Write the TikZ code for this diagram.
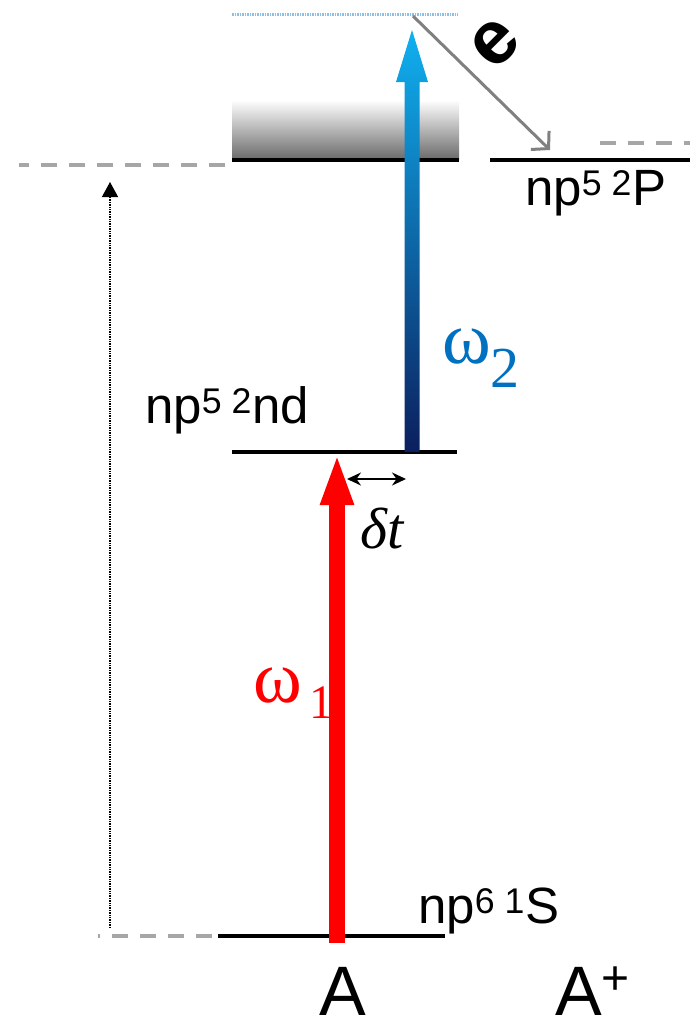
\documentclass[tikz,border=0pt]{standalone}
\usepackage{fontspec}
\setmainfont{Liberation Sans}
\newfontfamily\greekfont{Liberation Serif}
\usetikzlibrary{arrows.meta,calc}
\definecolor{pumpcolor}{HTML}{FF0000}
\definecolor{probecolor}{HTML}{0070C0}
\definecolor{probedark}{HTML}{0B1F5E}
\definecolor{probelight}{HTML}{10B0F0}
\definecolor{guidecolor}{HTML}{A6A6A6}
\definecolor{eleccolor}{HTML}{808080}
\definecolor{contcolor}{HTML}{8CC0E6}
\tikzset{
  lvl line/.style={black,line width=3.5pt},
  lvl guide/.style={guidecolor,line width=4pt,dash pattern=on 16pt off 12pt},
  lvl label/.style={font=\fontsize{51}{60}\selectfont,anchor=base west,inner sep=0pt},
  atom label/.style={font=\fontsize{70}{80}\selectfont,inner sep=0pt},
  pump arrow/.style={pumpcolor,line width=16pt,-{Triangle[length=52pt,width=30pt]}},
  elec arrow/.style={eleccolor,line width=3pt,-{Straight Barb[length=12pt,width=26pt]}},
  freq label/.style={font=\greekfont\fontsize{74}{80}\selectfont,anchor=base west,inner sep=0pt}
}

\begin{document}
\begin{tikzpicture}[x=1pt,y=-1pt]
  \useasboundingbox (0,0) rectangle (690,1029);
  % levels
  \coordinate (g0) at (218,936); \coordinate (g1) at (445,936);
  \coordinate (n0) at (232,452); \coordinate (n1) at (457,452);
  \coordinate (c0) at (232,160); \coordinate (c1) at (459,160);
  \coordinate (i0) at (490,160); \coordinate (i1) at (690,160);
  \coordinate (t0) at (232,14);  \coordinate (t1) at (458,14);
  \shade[top color=white,bottom color=black!58] (232,100) rectangle (459,159);
  \draw[lvl line] (g0) -- (g1);
  \draw[lvl line] (n0) -- (n1);
  \draw[lvl line] (c0) -- (c1);
  \draw[lvl line] (i0) -- (i1);
  \draw[contcolor,line width=3pt,dash pattern=on 1.5pt off 1pt] (t0) -- (t1);
  \draw[lvl guide,dash phase=22pt] (g0) -- (98,936);
  \draw[lvl guide] (225,165) -- (19,165);
  \draw[lvl guide] (600,143) -- (690,143);
  \draw[densely dotted,line width=1.4pt,-{Triangle[length=15pt,width=16pt]}] (110,928) -- (110,182);
  % photons
  \coordinate (pr0) at (337,943); \coordinate (pr1) at (337,453);
  \draw[pump arrow] (pr0) -- (pr1);
  \coordinate (pb0) at (412,452); \coordinate (pb1) at (412,30);
  \shade[bottom color=probedark,top color=probelight]
    ($(pb0)+(-7.5,0)$) -- ($(pb1)+(-7.5,52)$) -- ($(pb1)+(-16,52)$) -- (pb1)
    -- ($(pb1)+(16,52)$) -- ($(pb1)+(7.5,52)$) -- ($(pb0)+(7.5,0)$) -- cycle;
  \draw[line width=2pt,{Stealth[length=14pt,width=13pt]}-{Stealth[length=14pt,width=13pt]}] (347,479) -- (406,479);
  \coordinate (e0) at (413,16); \coordinate (e1) at (550,150);
  \draw[elec arrow] (e0) -- (e1);
  % labels
  \node[lvl label] (gsl) at (418,923) {np\textsuperscript{6 1}S};
  \node[lvl label] (ndl) at (145,423) {np\textsuperscript{5 2}nd};
  \node[lvl label] (ionl) at (525,205) {np\textsuperscript{5 2}P};
  \node[atom label,anchor=base] (atom) at (343,1015) {A};
  \node[atom label,anchor=base west] (ion) at (555,1015) {A\raisebox{21pt}{\fontsize{48}{48}\selectfont +}};
  \node[freq label,text=pumpcolor] (w1) at (253,702) {ω\kern8pt\raisebox{-16pt}{\fontsize{48}{50}\selectfont 1}};
  \node[freq label,text=probecolor] (w2) at (442,363) {ω\raisebox{-24pt}{\fontsize{58}{60}\selectfont 2}};
  \node[font=\greekfont\itshape\fontsize{58}{60}\selectfont,anchor=base west,inner sep=0pt] (dt) at (360,548) {δt};
  \node[font=\bfseries\fontsize{76}{80}\selectfont,rotate=45] (el) at (495,43) {e};
\end{tikzpicture}
\end{document}
